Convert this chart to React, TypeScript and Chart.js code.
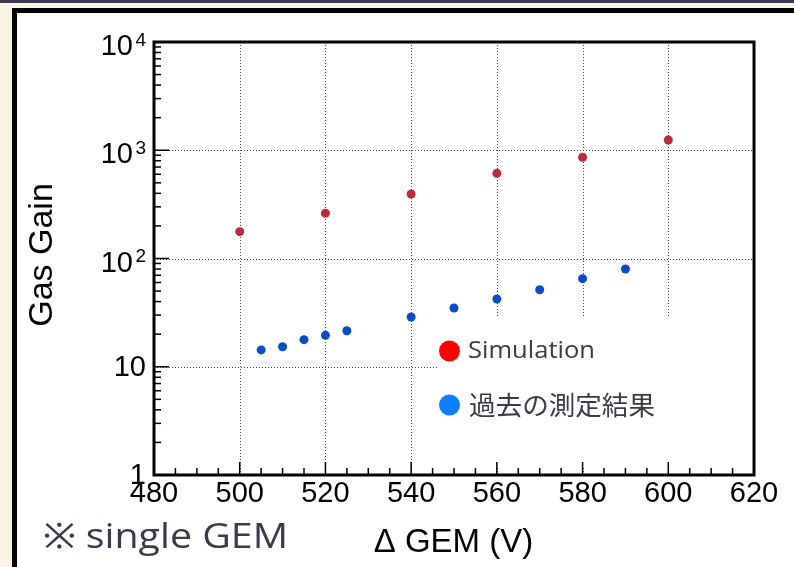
import React, { useEffect, useRef } from "react";
import { Chart, registerables } from "chart.js";

Chart.register(...registerables);

const simVoltage = [500, 520, 540, 560, 580, 600];
const simGain = [177, 262, 394, 612, 861, 1244];
const measVoltage = [505, 510, 515, 520, 525, 540, 550, 560, 570, 580, 590];
const measGain = [14.3, 15.3, 17.8, 19.5, 21.5, 28.8, 34.9, 42.3, 51.5, 65.1, 80.0];
const xTicks = [480, 500, 520, 540, 560, 580, 600, 620];
const xGridTicks = [500, 520, 540, 560, 580, 600];
const yDecades = [1, 10, 100, 1000, 10000];
const yTickLabels: [string, string][] = [["1", ""], ["10", ""], ["10", "2"], ["10", "3"], ["10", "4"]];
const yGridTicks = [10, 100, 1000];
const legendLabels = ["Simulation", "過去の測定結果"];
const xTitle = "Δ GEM (V)";
const yTitle = "Gas Gain";
const noteText = "※ single GEM";

const AXIS_FONT = "'Liberation Sans', Arial, sans-serif";
const SLIDE_FONT = "'Open Sans', Lato, sans-serif";

function drawFitted(ctx: CanvasRenderingContext2D, text: string, x: number, y: number, font: string, width: number) {
  ctx.save();
  ctx.font = font;
  ctx.textAlign = "left";
  const w = ctx.measureText(text).width;
  ctx.translate(x, y);
  ctx.scale(width / w, 1);
  ctx.fillText(text, 0, 0);
  ctx.restore();
}

const rootPlugin = {
  id: "rootStyle",
  beforeDraw(chart: any) {
    const ctx = chart.ctx;
    const w = chart.width;
    const h = chart.height;
    ctx.save();
    ctx.fillStyle = "#fbf3e2";
    ctx.fillRect(0, 0, w, h);
    ctx.fillStyle = "#3a3850";
    ctx.fillRect(0, 0, w, 3);
    ctx.fillStyle = "#ffffff";
    ctx.fillRect(17, 13, w - 17, h - 13);
    ctx.fillStyle = "#000000";
    ctx.fillRect(12, 8, 5, h - 8);
    ctx.fillRect(12, 8, w - 12, 5);
    ctx.restore();
  },
  beforeDatasetsDraw(chart: any) {
    const ctx = chart.ctx;
    const { left, right, top, bottom } = chart.chartArea;
    const xs = chart.scales.x;
    const ys = chart.scales.y;
    ctx.save();
    ctx.strokeStyle = "#444444";
    ctx.lineWidth = 1;
    ctx.setLineDash([1, 2]);
    for (const v of xGridTicks) {
      const x = Math.round(xs.getPixelForValue(v)) + 0.5;
      ctx.beginPath();
      ctx.moveTo(x, top);
      ctx.lineTo(x, bottom);
      ctx.stroke();
    }
    for (const v of yGridTicks) {
      const y = Math.round(ys.getPixelForValue(v)) + 0.5;
      ctx.beginPath();
      ctx.moveTo(left, y);
      ctx.lineTo(right, y);
      ctx.stroke();
    }
    ctx.setLineDash([]);
    // opaque text box overlay (legend area)
    ctx.fillStyle = "#ffffff";
    ctx.fillRect(438, 318, right - 438, 150);
    ctx.restore();
  },
  afterDraw(chart: any) {
    const ctx = chart.ctx;
    const { left, right, top, bottom } = chart.chartArea;
    const xs = chart.scales.x;
    const ys = chart.scales.y;
    ctx.save();
    ctx.strokeStyle = "#000000";
    ctx.lineWidth = 1.5;
    // x ticks
    for (let v = 480; v <= 620; v += 5) {
      const x = xs.getPixelForValue(v);
      const len = v % 20 === 0 ? 13 : 7;
      ctx.beginPath();
      ctx.moveTo(x, bottom);
      ctx.lineTo(x, bottom - len);
      ctx.stroke();
    }
    // y ticks
    for (let d = 0; d < yDecades.length; d++) {
      const base = yDecades[d];
      const y = ys.getPixelForValue(base);
      ctx.beginPath();
      ctx.moveTo(left, y);
      ctx.lineTo(left + 15, y);
      ctx.stroke();
      if (d < yDecades.length - 1) {
        for (let k = 2; k <= 9; k++) {
          const yy = ys.getPixelForValue(base * k);
          ctx.beginPath();
          ctx.moveTo(left, yy);
          ctx.lineTo(left + 7, yy);
          ctx.stroke();
        }
      }
    }
    // frame
    ctx.lineWidth = 3;
    ctx.strokeRect(left, top, right - left, bottom - top);

    // x tick labels
    ctx.fillStyle = "#000000";
    ctx.font = `29px ${AXIS_FONT}`;
    ctx.textAlign = "center";
    ctx.textBaseline = "middle";
    for (const v of xTicks) {
      ctx.fillText(String(v), xs.getPixelForValue(v), 494);
    }
    // y tick labels
    for (let i = 0; i < yDecades.length; i++) {
      const y = ys.getPixelForValue(yDecades[i]);
      const [main, exp] = yTickLabels[i];
      ctx.textAlign = "right";
      ctx.textBaseline = "middle";
      if (exp) {
        ctx.font = `29px ${AXIS_FONT}`;
        ctx.fillText(main, 133, y + 5);
        ctx.font = `19px ${AXIS_FONT}`;
        ctx.textBaseline = "top";
        ctx.fillText(exp, 146, y - 11);
      } else {
        ctx.font = `29px ${AXIS_FONT}`;
        ctx.fillText(main, 146, y + 1);
      }
    }
    // axis titles
    ctx.font = `33px ${AXIS_FONT}`;
    ctx.textAlign = "center";
    ctx.textBaseline = "middle";
    ctx.fillText(xTitle, 453.5, 543);
    ctx.save();
    ctx.translate(43, 255);
    ctx.rotate(-Math.PI / 2);
    ctx.font = `34px ${AXIS_FONT}`;
    ctx.fillText(yTitle, 0, 0);
    ctx.restore();

    // legend
    const legendColors = ["#ff0000", "#0a80ff"];
    const legendY = [351, 405];
    const legendFonts = [`24px ${SLIDE_FONT}`, `26px 'Noto Sans CJK JP', sans-serif`];
    const legendWidths = [127, 186];
    const legendX = [468, 469];
    for (let i = 0; i < legendLabels.length; i++) {
      ctx.fillStyle = legendColors[i];
      ctx.beginPath();
      ctx.arc(449.5, legendY[i], 10.5, 0, Math.PI * 2);
      ctx.fill();
      ctx.fillStyle = "#3b3a4c";
      ctx.textBaseline = "middle";
      drawFitted(ctx, legendLabels[i], legendX[i], legendY[i], legendFonts[i], legendWidths[i]);
    }

    // note
    ctx.fillStyle = "#3b3a4c";
    ctx.textBaseline = "alphabetic";
    drawFitted(ctx, noteText, 43, 548, `35px ${SLIDE_FONT}`, 245);
    ctx.restore();
  },
};

export default function App() {
  const ref = useRef<HTMLCanvasElement | null>(null);
  useEffect(() => {
    if (!ref.current) return;
    const chart = new Chart(ref.current, {
      type: "scatter",
      data: {
        datasets: [
          {
            label: legendLabels[0],
            data: simVoltage.map((x, i) => ({ x, y: simGain[i] })),
            backgroundColor: "#bd2a3e",
            borderWidth: 0,
            pointRadius: 4.5,
          },
          {
            label: legendLabels[1],
            data: measVoltage.map((x, i) => ({ x, y: measGain[i] })),
            backgroundColor: "#0a4cc6",
            borderWidth: 0,
            pointRadius: 4.5,
          },
        ],
      },
      options: {
        responsive: false,
        animation: false,
        devicePixelRatio: 1,
        layout: { padding: { left: 154, top: 42, right: 40, bottom: 92 } },
        plugins: { legend: { display: false }, tooltip: { enabled: false } },
        scales: {
          x: { type: "linear", min: 480, max: 620, display: false },
          y: { type: "logarithmic", min: 1, max: 10000, display: false },
        },
      },
      plugins: [rootPlugin],
    });
    return () => chart.destroy();
  }, []);
  return (
    <div style={{ position: "fixed", left: 0, top: 0, width: 794, height: 567 }}>
      <canvas ref={ref} width={794} height={567} style={{ width: 794, height: 567, display: "block" }} />
    </div>
  );
}
